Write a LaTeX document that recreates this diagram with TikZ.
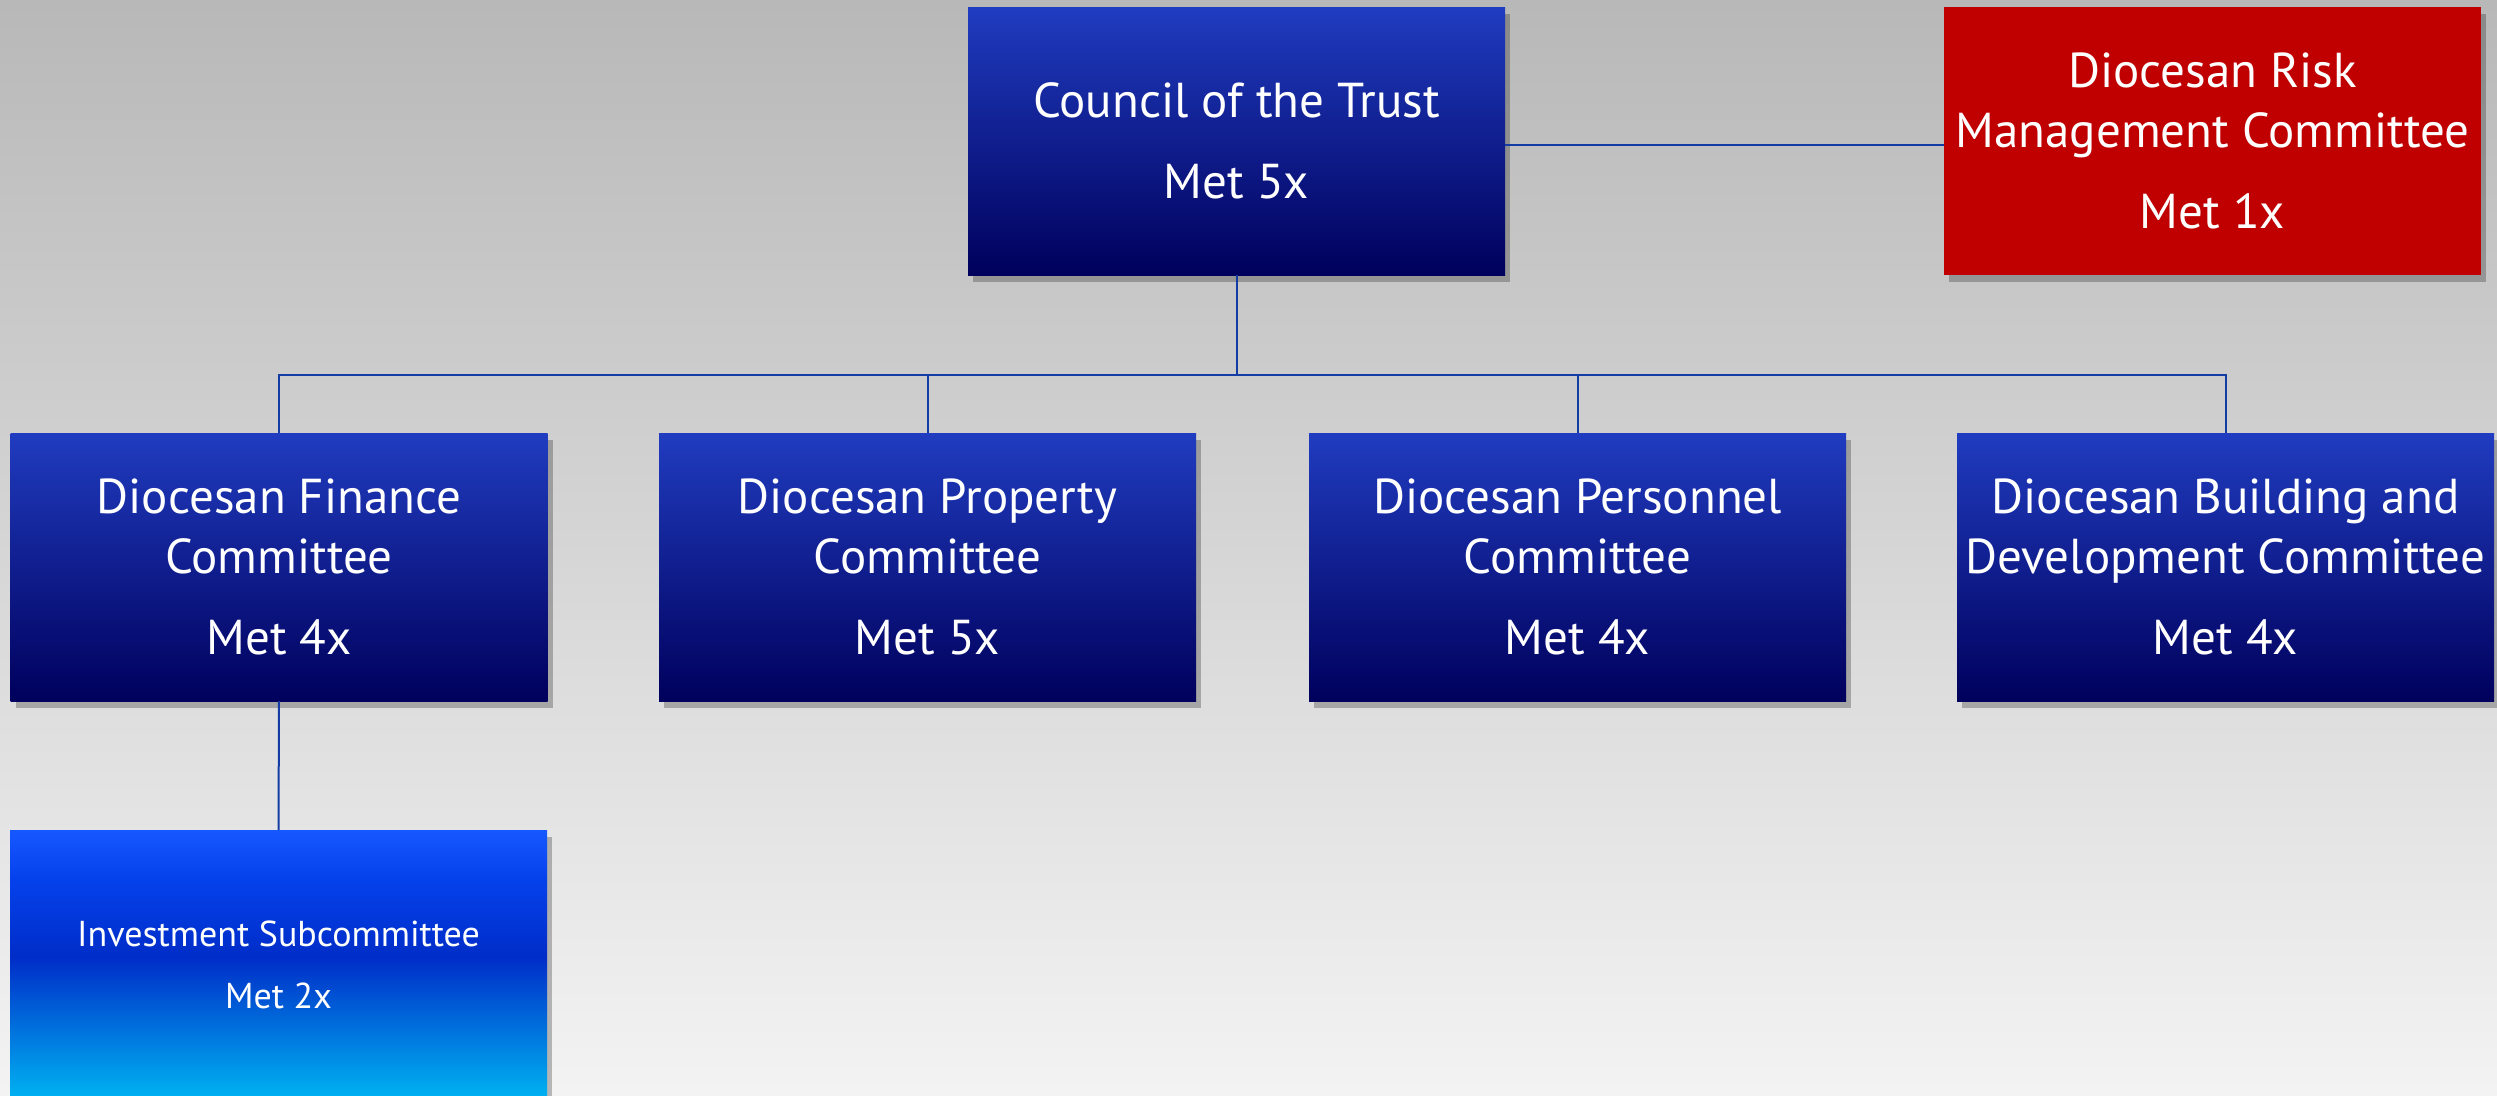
\documentclass[tikz,border=0pt]{standalone}
\usepackage{fontspec}
\setmainfont{PT Sans}
\usetikzlibrary{shadows}
\definecolor{bgtop}{RGB}{184,184,184}
\definecolor{bgbot}{RGB}{243,243,243}
\definecolor{btop}{RGB}{32,60,192}
\definecolor{bmid}{RGB}{0,22,160}
\definecolor{bbot}{RGB}{0,0,92}
\definecolor{riskred}{RGB}{192,0,0}
\definecolor{itop}{RGB}{22,88,255}
\definecolor{ione}{RGB}{5,65,235}
\definecolor{imid}{RGB}{0,45,200}
\definecolor{ithree}{RGB}{0,95,215}
\definecolor{ibot}{RGB}{0,180,242}
\definecolor{linkblue}{RGB}{20,60,165}
\pgfdeclareverticalshading{investshade}{100bp}{color(0bp)=(ibot); color(25bp)=(ibot); color(41.7bp)=(ithree); color(51.5bp)=(imid); color(65.7bp)=(ione); color(75bp)=(itop); color(100bp)=(itop)}
\begin{document}
\begin{tikzpicture}[x=1pt,y=-1pt,
  box/.style={rectangle, minimum width=537pt, minimum height=268pt, inner sep=0pt,
    text=white, align=center, font=\fontsize{49}{60}\selectfont,
    drop shadow={shadow xshift=5pt, shadow yshift=-7pt, opacity=0.25, fill=black}},
  bluebox/.style={box, top color=btop, middle color=bmid, bottom color=bbot},
  redbox/.style={box, fill=riskred},
  investbox/.style={box, minimum height=270pt, font=\fontsize{36}{62}\selectfont,
    shading=investshade},
  link/.style={draw=linkblue, line width=2pt}]
\useasboundingbox (0,0) rectangle (2497,1095);
\shade[top color=bgtop, bottom color=bgbot] (0,0) rectangle (2497,1095);

\node[bluebox] (council) at (1236.5,141) {Council of the Trust\\[21pt]Met 5x};
\node[redbox] (risk) at (2212.5,141) {Diocesan Risk\\Management Committee\\[21pt]Met 1x};
\node[bluebox] (finance) at (279,567) {Diocesan Finance\\Committee\\[21pt]Met 4x};
\node[bluebox] (property) at (927.5,567) {Diocesan Property\\Committee\\[21pt]Met 5x};
\node[bluebox] (personnel) at (1577.5,567) {Diocesan Personnel\\Committee\\[21pt]Met 4x};
\node[bluebox] (building) at (2225.5,567) {Diocesan Building and\\Development Committee\\[21pt]Met 4x};
\node[investbox] (invest) at (278.5,965) {Investment Subcommittee\\Met 2x};

\draw[link] (council.south) -- ++(0,100) coordinate (bus);
\draw[link] (finance.north) |- (bus) -| (building.north);
\draw[link] (property.north) -- (property.north |- bus);
\draw[link] (personnel.north) -- (personnel.north |- bus);
\draw[link] ([yshift=-4pt]council.east) -- ([yshift=-4pt]council.east -| risk.west);
\draw[link] (finance.south) -- (invest.north);
\end{tikzpicture}
\end{document}
